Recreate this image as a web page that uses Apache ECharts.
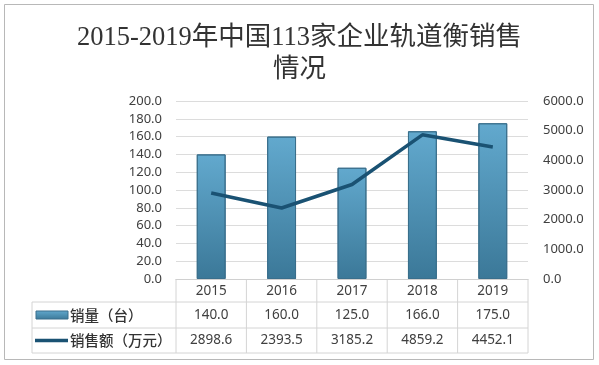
<!DOCTYPE html>
<html><head><meta charset="utf-8">
<script src="https://cdn.jsdelivr.net/npm/echarts@6/dist/echarts.min.js"></script>
<style>html,body{margin:0;padding:0;background:#fff}#c{width:599px;height:365px}</style>
</head><body><div id="c"></div>
<script>
const years = ['2015', '2016', '2017', '2018', '2019'];
const salesVolume = [140.0, 160.0, 125.0, 166.0, 175.0];
const salesAmount = [2898.6, 2393.5, 3185.2, 4859.2, 4452.1];
const volumeName = '销量（台）';
const amountName = '销售额（万元）';
const titleText = '2015-2019年中国113家企业轨道衡销售\n情况';

const chart = echarts.init(document.getElementById('c'), null, {renderer: 'canvas'});
const barColor = new echarts.graphic.LinearGradient(0, 0, 0, 1, [
  {offset: 0, color: '#62a9ce'}, {offset: 1, color: '#3b7898'}
]);
const lineColor = '#1a5273';
const textColor = '#404040';
const fontFam = '"Noto Sans", "Noto Sans CJK SC", sans-serif';

chart.setOption({
  animation: false,
  backgroundColor: '#fff',
  title: {
    text: titleText, left: 'center', top: 17,
    textStyle: {fontFamily: '"Liberation Serif", "Noto Sans CJK SC", serif', fontSize: 26.5, fontWeight: 'normal', color: '#333', lineHeight: 32}
  },
  grid: {left: 176, right: 71, top: 101, bottom: 86},
  xAxis: {
    type: 'category', data: years,
    axisLine: {lineStyle: {color: '#d0d0d0'}},
    axisTick: {show: false},
    axisLabel: {show: false}
  },
  yAxis: [{
    type: 'value', min: 0, max: 200, interval: 20,
    axisLine: {show: false}, axisTick: {show: false},
    axisLabel: {formatter: v => v.toFixed(1), color: textColor, fontSize: 13, margin: 14, fontFamily: fontFam},
    splitLine: {lineStyle: {color: '#dcdcdc'}}
  }, {
    type: 'value', min: 0, max: 6000, interval: 1000,
    axisLine: {show: false}, axisTick: {show: false},
    axisLabel: {formatter: v => v.toFixed(1), color: textColor, fontSize: 13, margin: 15, fontFamily: fontFam},
    splitLine: {show: false}
  }],
  series: [{
    name: volumeName, type: 'bar', data: salesVolume, barWidth: '41%',
    itemStyle: {color: barColor, borderColor: '#3a6f8c', borderWidth: 1}
  }, {
    name: amountName, type: 'line', yAxisIndex: 1, data: salesAmount,
    symbol: 'none', lineStyle: {color: lineColor, width: 3.5}
  }]
});

// Data table under the plot
const gridRect = chart.getModel().getComponent('grid', 0).coordinateSystem.getRect();
const L = gridRect.x, R = gridRect.x + gridRect.width, T = gridRect.y + gridRect.height;
const colW = gridRect.width / years.length;
const tableLeft = 32;
const row1 = T + 23, row2 = row1 + 26, row3 = row2 + 25;
const g = [];
const lineStyle = {stroke: '#d4d4d4', lineWidth: 1};
function hl(xa, xb, y) { g.push({type: 'line', shape: {x1: xa, y1: y, x2: xb, y2: y}, style: lineStyle, silent: true}); }
function vl(x, ya, yb) { g.push({type: 'line', shape: {x1: x, y1: ya, x2: x, y2: yb}, style: lineStyle, silent: true}); }
hl(tableLeft, R, row1); hl(tableLeft, R, row2); hl(tableLeft, R, row3);
vl(tableLeft, row1, row3);
for (let i = 0; i <= years.length; i++) vl(L + i * colW, T, row3);
const cellText = (txt, x, y) => g.push({type: 'text', x: x, y: y, silent: true,
  style: {text: txt, fill: textColor, font: '13.5px ' + fontFam, textAlign: 'center', textVerticalAlign: 'middle'}});
years.forEach((yr, i) => {
  const cx = chart.convertToPixel({xAxisIndex: 0}, yr);
  cellText(yr, cx, (T + row1) / 2 + 1);
  cellText(salesVolume[i].toFixed(1), cx, (row1 + row2) / 2);
  cellText(salesAmount[i].toFixed(1), cx, (row2 + row3) / 2);
});
// legend keys
g.push({type: 'rect', shape: {x: 36, y: (row1 + row2) / 2 - 4, width: 32, height: 8}, style: {fill: barColor, stroke: '#3a6f8c', lineWidth: 1}, silent: true});
g.push({type: 'line', shape: {x1: 35, y1: (row2 + row3) / 2, x2: 68, y2: (row2 + row3) / 2}, style: {stroke: lineColor, lineWidth: 3.5}, silent: true});
const labelText = (txt, y) => g.push({type: 'text', x: 70, y: y, silent: true,
  style: {text: txt, fill: '#333', font: '500 14.5px "Noto Sans CJK SC", sans-serif', textAlign: 'left', textVerticalAlign: 'middle'}});
labelText(volumeName, (row1 + row2) / 2);
labelText(amountName, (row2 + row3) / 2);
// outer frame
g.push({type: 'rect', shape: {x: 4.5, y: 4.5, width: 589, height: 355}, style: {fill: null, stroke: '#b8b8b8', lineWidth: 1}, silent: true, z: 100});
chart.setOption({graphic: g});
</script></body></html>
